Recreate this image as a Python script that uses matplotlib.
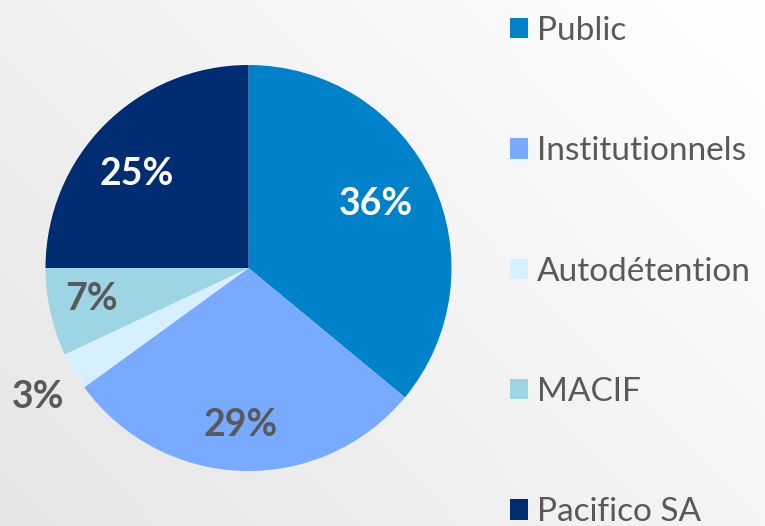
import numpy as np
import matplotlib
matplotlib.use("Agg")
import matplotlib.pyplot as plt
from matplotlib.patches import Patch
from matplotlib.colors import LinearSegmentedColormap

categories = ["Public", "Institutionnels", "Autodétention", "MACIF", "Pacifico SA"]
values = [36, 29, 3, 7, 25]
labels = ["36%", "29%", "3%", "7%", "25%"]

colors = ["#0082CA", "#78ABFF", "#D6F0FF", "#9ED5E4", "#002D72"]
label_colors = ["white", "#595959", "#595959", "#595959", "white"]
label_dist = [0.70, 0.775, 1.216, 0.79, 0.718]
label_shift = [1.5, -1.2, 0.9, -1.5, 4.9]  # degrees

W, H = 765, 526
fig = plt.figure(figsize=(W / 100, H / 100), dpi=100)

# background gradient (light gray bottom-left to white top-right)
bg = fig.add_axes([0, 0, 1, 1])
yy, xx = np.mgrid[0:1:200j, 0:1:300j]
g = (xx * 0.6 + yy * 0.4)
cmap = LinearSegmentedColormap.from_list("bg", ["#e6e6e6", "#ffffff"])
bg.imshow(g, cmap=cmap, origin="lower", extent=[0, 1, 0, 1], aspect="auto")
bg.axis("off")

cx, cy, r = 248.5, 268, 203
ax = fig.add_axes([(cx - r) / W, (H - cy - r) / H, 2 * r / W, 2 * r / H])
wedges, _ = ax.pie(values, colors=colors, startangle=90, counterclock=False,
                   radius=1, wedgeprops=dict(linewidth=0))
ax.set_xlim(-1, 1)
ax.set_ylim(-1, 1)
ax.set_aspect("equal")
ax.axis("off")

font = "Lato"
for w, lab, col, d, s in zip(wedges, labels, label_colors, label_dist, label_shift):
    ang = np.deg2rad((w.theta1 + w.theta2) / 2 + s)
    ax.text(d * np.cos(ang), d * np.sin(ang), lab, ha="center", va="center",
            fontsize=27, fontweight="bold", color=col, family=font, clip_on=False)

handles = [Patch(facecolor=c, edgecolor="none") for c in colors]
leg = fig.legend(handles, categories, loc="upper left", bbox_to_anchor=(510 / W, 1 - 16 / H),
                 frameon=False, handlelength=0.55, handleheight=0.55,
                 handletextpad=0.25, labelspacing=2.71, borderaxespad=0, borderpad=0,
                 prop=dict(family=font, size=24))
for t in leg.get_texts():
    t.set_color("#595959")

fig.savefig("out.png", dpi=100)
